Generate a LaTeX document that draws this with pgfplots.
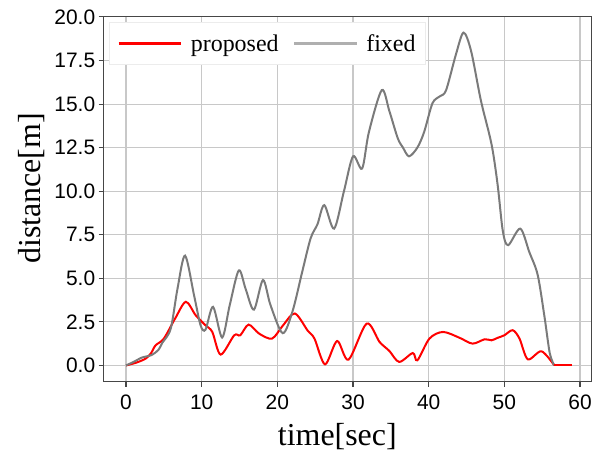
\documentclass[border=0pt]{standalone}
\usepackage{fontspec}
\setmainfont{Liberation Serif}
\newfontfamily\tickfont{Liberation Sans}
\usepackage{pgfplots}
\pgfplotsset{compat=1.18}
\definecolor{fixedgray}{RGB}{122,122,122}
\definecolor{legendgray}{RGB}{175,175,175}
\definecolor{gridgray}{RGB}{200,200,200}
\definecolor{spine}{RGB}{70,70,70}

\begin{document}
\begin{tikzpicture}
\begin{axis}[
  name=ax,
  scale only axis,
  width=489pt, height=366pt,
  xmin=-2.95, xmax=61.5,
  ymin=-0.95, ymax=20,
  xtick={0,10,20,30,40,50,60},
  ytick={0,2.5,5,7.5,10,12.5,15,17.5,20},
  grid=major,
  major grid style={gridgray, line width=1.1pt},
  axis line style={spine, line width=1.1pt},
  tick style={spine, line width=1.1pt},
  tick align=outside,
  major tick length=5pt,
  xtick pos=bottom, ytick pos=left,
  /pgf/number format/assume math mode=true,
  tick label style={font=\tickfont\fontsize{21}{21}\selectfont},
  yticklabel style={/pgf/number format/fixed,
                    /pgf/number format/precision=1,
                    /pgf/number format/fixed zerofill},
  xticklabel style={yshift=-4pt},
  ylabel={distance[m]},
  xlabel={time[sec]},
  label style={font=\fontsize{32}{32}\selectfont},
  ylabel style={at={(axis description cs:-0.147,0.53)}, anchor=center, rotate=0},
  xlabel style={at={(axis description cs:0.479,-0.150)}, anchor=center},
  legend columns=2,
  legend style={at={(axis description cs:0.01,0.986)}, anchor=north west,
    draw=gray!15, line width=1pt, fill=white,
    font=\fontsize{24}{24}\selectfont,
    inner xsep=8pt, inner ysep=10pt,
    /tikz/every odd column/.append style={column sep=6pt},
    /tikz/every even column/.append style={column sep=12pt}},
  legend cell align=left,
]
\addplot[red, line width=2pt, smooth, tension=0.5,
  legend image code/.code={\draw[red, line width=3pt] (0pt,0pt) -- (63pt,0pt);}]
  coordinates {
  (0,0)(1.3,0.15)(2.6,0.39)(3.3,0.7)(3.9,1.15)(5.0,1.54)(6.5,2.7)(7.9,3.65)
  (9.2,2.88)(10.5,2.3)(11.4,1.92)(12.5,0.62)(14.3,1.73)(15.1,1.73)(16.2,2.34)
  (17.6,1.82)(19.3,1.54)(20.7,2.27)(22.3,2.98)(24.0,2.0)(24.9,1.54)(26.3,0.06)
  (27.9,1.4)(29.4,0.33)(31.8,2.4)(33.5,1.35)(34.8,0.83)(36.1,0.2)(37.9,0.71)
  (38.5,0.29)(40.1,1.54)(41.9,1.92)(44.1,1.58)(45.8,1.25)(47.4,1.5)(48.3,1.44)
  (49.1,1.58)(50.0,1.73)(51.1,2.02)(52.0,1.54)(53.1,0.35)(54.9,0.81)(56.6,0)
};
\addlegendentry{proposed}
\addplot[fixedgray, line width=2pt, smooth, tension=0.5,
  legend image code/.code={\draw[legendgray, line width=3pt] (0pt,0pt) -- (63pt,0pt);}]
  coordinates {
  (0,0)(1,0.2)(2.1,0.45)(3.4,0.6)(4.3,0.9)(4.8,1.3)(5.9,2.1)(6.8,4.4)(7.8,6.3)
  (9.0,4.0)(9.85,2.3)(10.5,2.05)(11.5,3.36)(12.7,1.6)(13.7,3.45)(14.9,5.45)
  (15.8,4.4)(16.9,3.2)(18.1,4.9)(19.1,3.45)(20.7,1.85)(22.0,3.1)(23.3,5.4)
  (24.4,7.3)(25.3,8.1)(26.2,9.2)(27.5,7.85)(28.8,10)(30.0,12)(31.2,11.3)
  (32.1,13.4)(33.8,15.8)(34.8,14.6)(35.9,13.05)(36.6,12.5)(37.4,12.0)(38.5,12.5)
  (39.4,13.4)(40.5,15.05)(41.5,15.45)(42.3,15.8)(43.6,17.85)(44.6,19.1)
  (45.6,18.05)(46.9,15.2)(48.3,12.7)(49.1,10.4)(49.8,7.7)(50.5,6.9)(52.1,7.85)
  (53.3,6.5)(54.4,5.2)(55.3,2.8)(56.0,0.7)(56.6,0)
};
\addlegendentry{fixed}
% flat tail after both come to rest
\addplot[fixedgray, line width=2pt, forget plot] coordinates {(56.6,0)(59,0)};
\addplot[red, line width=2pt, forget plot] coordinates {(56.6,0)(59,0)};
\end{axis}
\path[use as bounding box] ([xshift=-104pt,yshift=-73pt]ax.south west)
  rectangle ([xshift=2pt,yshift=17pt]ax.north east);
\end{tikzpicture}
\end{document}
